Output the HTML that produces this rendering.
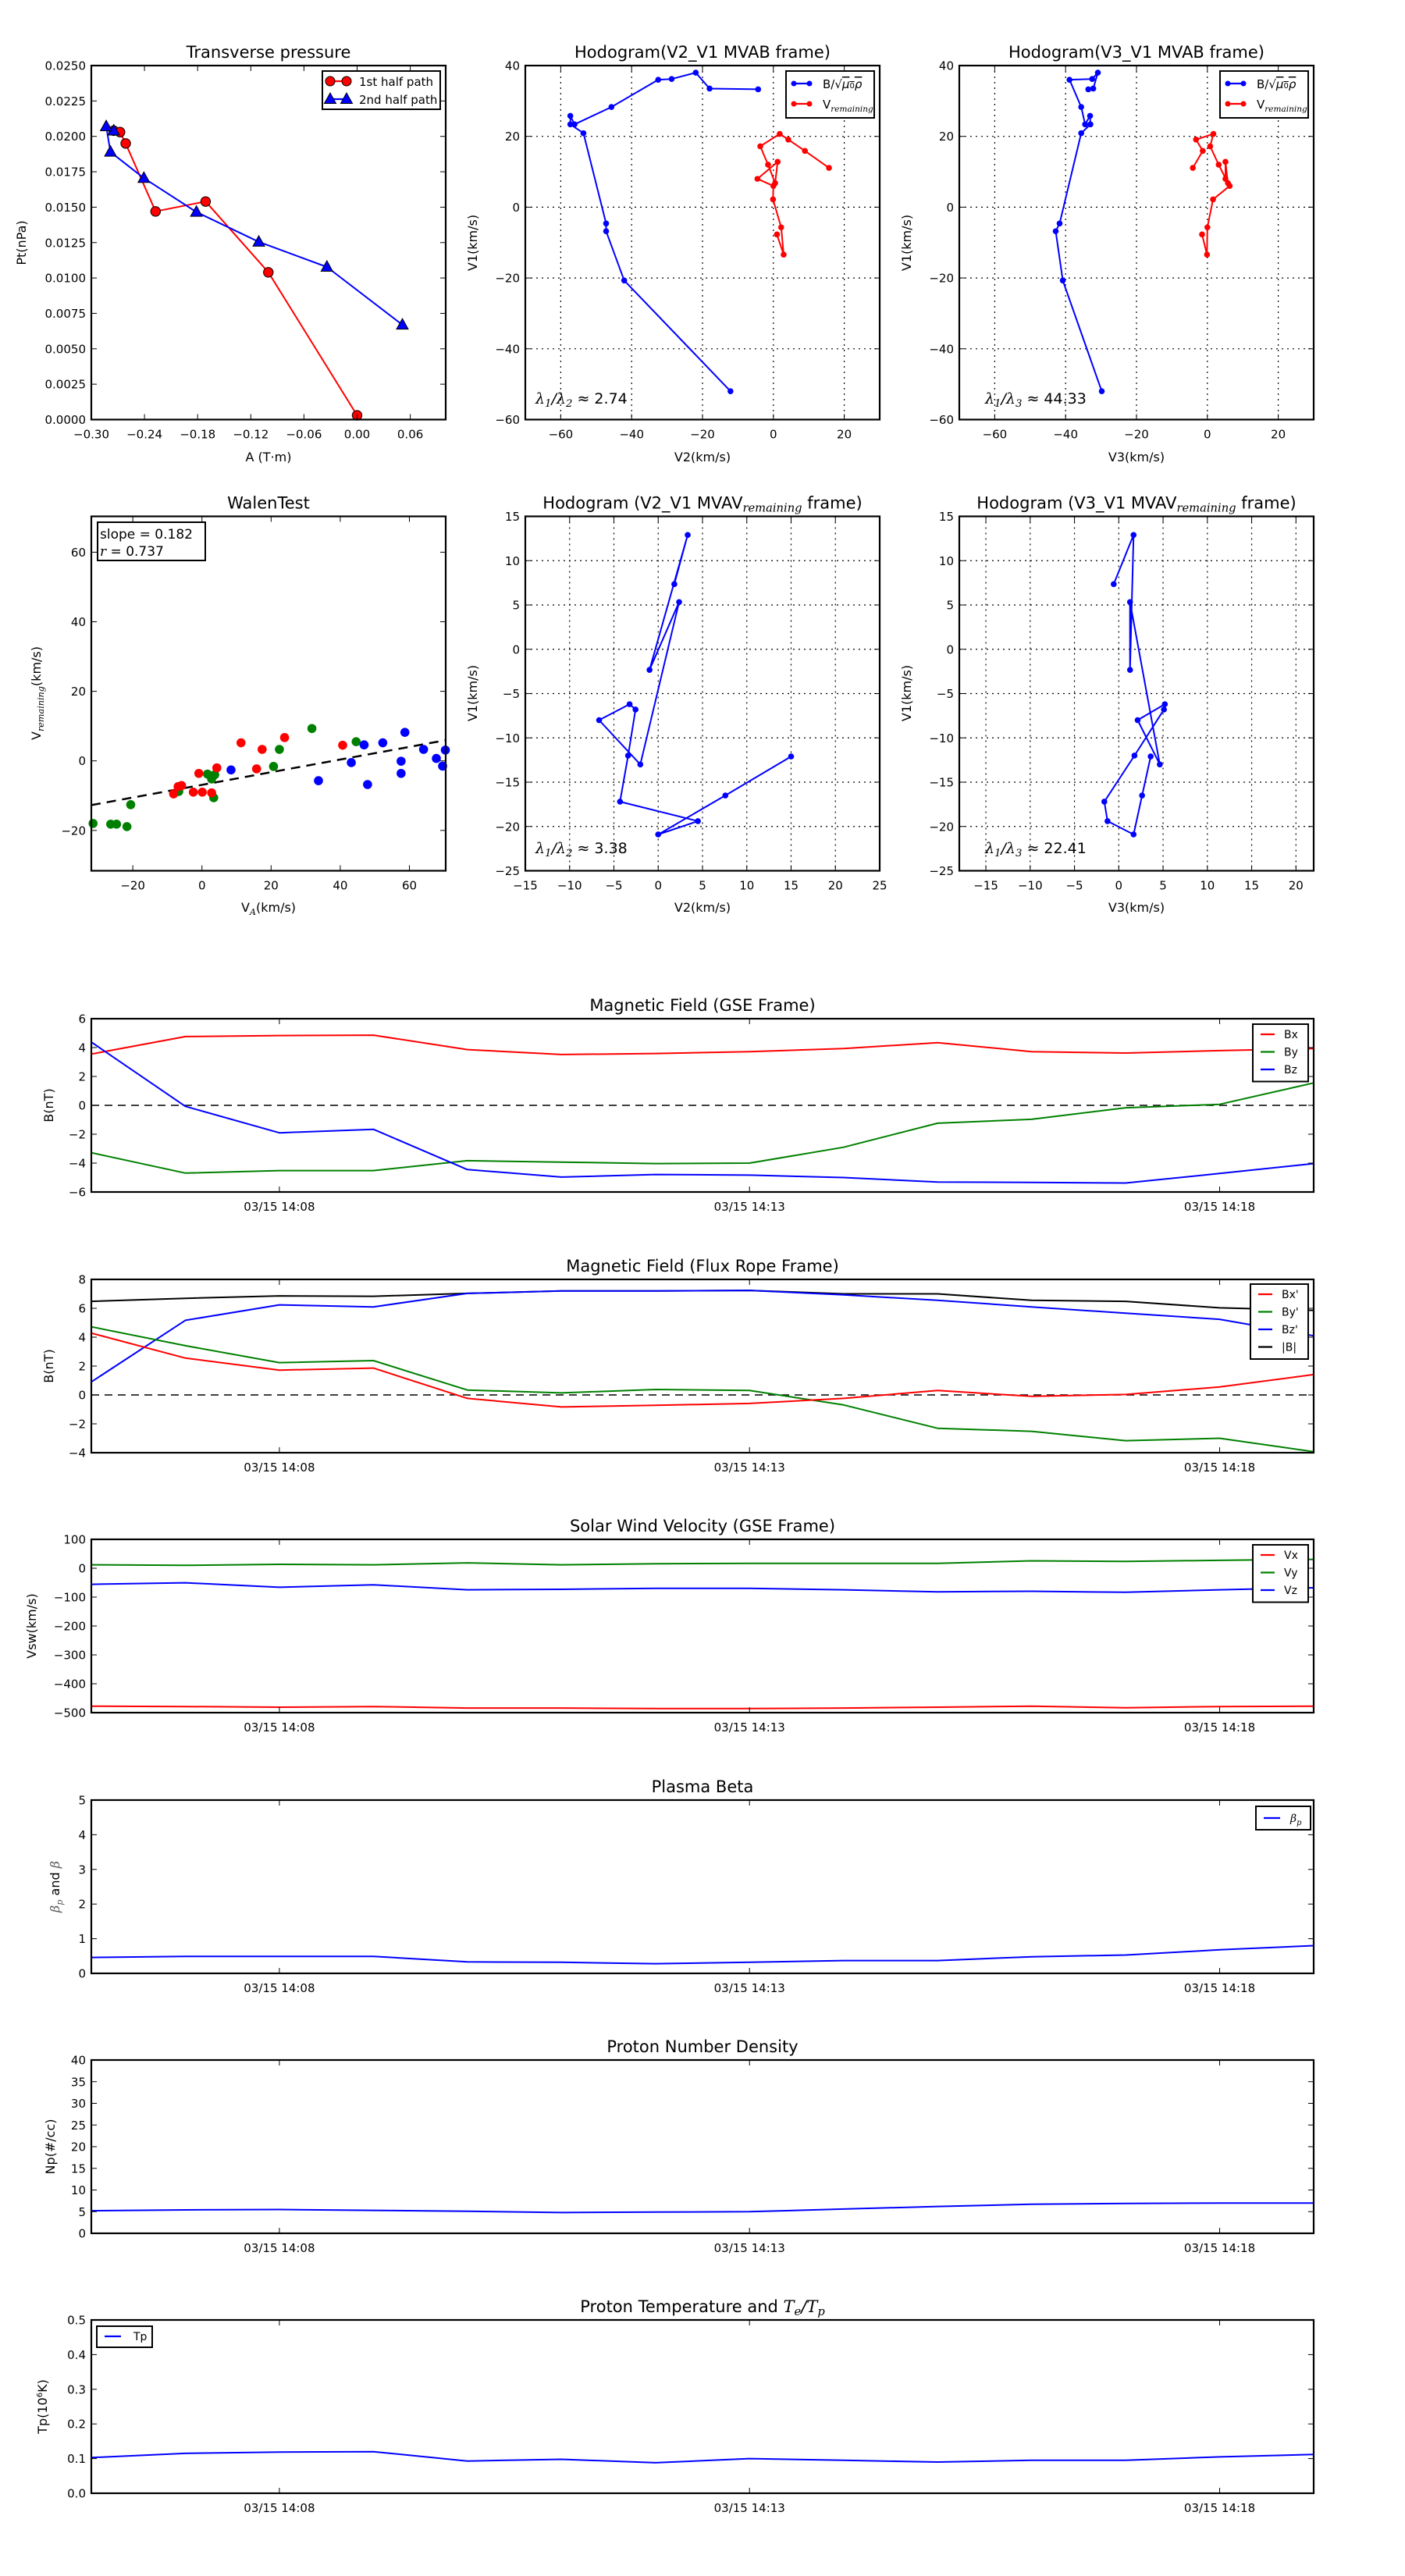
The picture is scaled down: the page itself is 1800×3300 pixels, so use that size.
<!DOCTYPE html>
<html><head><meta charset="utf-8"><title>Flux rope analysis</title>
<style>
html,body{margin:0;padding:0;background:#fff;}
svg{display:block;font-family:"DejaVu Sans","Liberation Sans",sans-serif;}
</style></head>
<body>
<svg id="fig" width="1800" height="3300" viewBox="0 0 1800 3300" xmlns="http://www.w3.org/2000/svg">
<rect x="0" y="0" width="1800" height="3300" fill="#fff"/>
</svg>
<script>
// ---------- data: transverse pressure ----------
const ptRedA = [-0.2747,-0.2676,-0.2612,-0.2275,-0.171,-0.1002,0.0];
const ptRedP = [0.0204,0.0203,0.0195,0.0147,0.0154,0.0104,0.0003];
const ptBlueA = [-0.2747,-0.2832,-0.2784,-0.2407,-0.1814,-0.111,-0.0341,0.0511];
const ptBlueP = [0.0204,0.0207,0.0189,0.01705,0.01466,0.01255,0.01078,0.00669];
// ---------- data: MVAB hodograms ----------
const hbV1 = [33.3,33.5,38.0,36.2,36.0,28.3,23.4,25.8,23.4,20.9,-4.6,-6.8,-20.7,-52.0];
const hbV2 = [-4.3,-18.0,-21.9,-28.7,-32.5,-45.7,-56.1,-57.3,-57.3,-53.6,-47.2,-47.2,-42.1,-12.1];
const hbV3 = [-33.6,-32.2,-30.9,-32.5,-38.9,-35.6,-34.5,-33.1,-33.0,-35.6,-41.7,-42.8,-40.8,-29.8];
const hvV1 = [11.1,15.9,19.1,20.7,17.2,12.0,6.8,12.8,8.0,6.0,2.2,-5.7,-13.4,-7.7];
const hvV2 = [15.7,8.9,4.2,1.8,-3.7,-1.5,0.5,1.2,-4.5,0.0,-0.1,2.2,2.9,1.0];
const hvV3 = [-4.1,-1.3,-3.2,1.7,0.8,3.2,5.8,5.1,5.1,6.3,1.6,0.0,-0.1,-1.5];
// ---------- data: Walen test ----------
const walGreenX = [-31.5,-26.4,-24.7,-21.7,-20.6,-6.7,1.6,2.8,3.7,3.4,20.7,22.4,31.8,44.6];
const walGreenY = [-18.0,-18.2,-18.2,-18.9,-12.6,-8.8,-3.8,-5.2,-4.0,-10.6,-1.6,3.3,9.3,5.5];
const walRedX = [-8.2,-6.9,-5.9,-2.5,0.1,2.8,-0.9,4.3,11.3,15.8,17.4,23.9,40.7];
const walRedY = [-9.5,-7.4,-7.1,-9.0,-9.0,-9.2,-3.6,-2.0,5.2,-2.3,3.3,6.7,4.5];
const walBlueX = [8.4,33.7,43.2,46.9,47.9,52.3,57.6,57.6,58.7,64.1,67.8,69.6,70.4];
const walBlueY = [-2.6,-5.7,-0.5,4.6,-6.8,5.2,-0.1,-3.6,8.2,3.3,0.7,-1.5,3.1];
const walSlope = [0.182];
const walIntercept = [-6.9];
// ---------- data: MVAV hodograms ----------
const hmV1 = [7.35,12.9,-2.33,5.33,-13.0,-8.0,-6.2,-6.8,-12.0,-17.2,-19.4,-20.9,-16.5,-12.1];
const hmV2 = [1.82,3.33,-0.98,2.36,-2.02,-6.67,-3.23,-2.56,-3.4,-4.31,4.48,0.0,7.58,15.0];
const hmV3 = [-0.57,1.67,1.27,1.27,4.63,2.13,5.2,5.1,1.77,-1.63,-1.27,1.67,2.63,3.6];
// ---------- data: time series (one sample per minute, 14:06 .. 14:19) ----------
const timeTickIdx = [2,7,12];
const timeTickLabels = ["03/15 14:08","03/15 14:13","03/15 14:18"];
const gseBx = [3.55,4.76,4.83,4.86,3.86,3.52,3.59,3.72,3.93,4.34,3.72,3.62,3.79,3.93];
const gseBy = [-3.28,-4.69,-4.52,-4.52,-3.83,-3.93,-4.03,-4.0,-2.9,-1.24,-0.97,-0.17,0.07,1.55];
const gseBz = [4.38,-0.07,-1.9,-1.66,-4.45,-4.97,-4.79,-4.83,-5.0,-5.31,-5.34,-5.38,-4.72,-4.03];
const frBx = [4.28,2.55,1.72,1.86,-0.24,-0.83,-0.72,-0.59,-0.24,0.31,-0.1,0.03,0.55,1.41];
const frBy = [4.72,3.41,2.24,2.38,0.34,0.14,0.38,0.31,-0.69,-2.31,-2.52,-3.17,-3.0,-3.93];
const frBz = [0.9,5.17,6.24,6.1,7.03,7.2,7.2,7.24,6.93,6.55,6.1,5.66,5.24,4.1];
const frBt = [6.48,6.69,6.86,6.83,7.03,7.2,7.2,7.24,7.0,7.0,6.55,6.48,6.03,5.86];
const swVx = [-477.6,-479,-481,-479,-484,-484,-486,-486,-484,-481,-477.6,-483,-479,-477.6];
const swVy = [11.8,10,13.5,11.8,18.7,11.8,15.3,17,17,17,25.6,23.9,27.4,30.8];
const swVz = [-55.6,-50.4,-66,-57.4,-74.6,-73,-69.5,-69.5,-74.6,-81.6,-79.8,-83.3,-74.6,-67.7];
const betaP = [0.46,0.49,0.49,0.49,0.33,0.32,0.28,0.32,0.37,0.37,0.48,0.53,0.68,0.8];
const densNp = [5.2,5.4,5.5,5.3,5.1,4.8,4.9,5.0,5.6,6.2,6.7,6.9,7.0,7.0];
const tempTp = [0.103,0.115,0.119,0.12,0.093,0.098,0.088,0.1,0.095,0.09,0.095,0.095,0.105,0.112];

// ---------- helpers ----------
const NS = 'http://www.w3.org/2000/svg';
const svg = document.getElementById('fig');
function mk(tag, attrs, parent, name, inter) {
  const el = document.createElementNS(NS, tag);
  for (const k in attrs) el.setAttribute(k, attrs[k]);
  
  
  (parent || svg).appendChild(el);
  return el;
}
function txt(parent, x, y, s, size, anchor, name, extra) {
  const a = {x: x, y: y, 'font-size': size, 'text-anchor': anchor || 'middle', fill: '#000'};
  if (extra) for (const k in extra) a[k] = extra[k];
  const t = mk('text', a, parent, name);
  t.textContent = s;
  return t;
}
function fmtMinus(v, d) { const s = v.toFixed(d); return s.replace('-', '\u2212'); }
function range(a, b, st) { const r = []; for (let v = a; v <= b + st * 1e-6; v += st) r.push(+v.toFixed(6)); return r; }

function axes(c) {
  const g = mk('g', {}, svg, c.name);
  const sx = v => c.x0 + (v - c.xd[0]) / (c.xd[1] - c.xd[0]) * (c.x1 - c.x0);
  const sy = v => c.y1 - (v - c.yd[0]) / (c.yd[1] - c.yd[0]) * (c.y1 - c.y0);
  if (c.grid) {
    c.xt.forEach(v => { mk('line', {x1: sx(v), x2: sx(v), y1: c.y0, y2: c.y1, stroke: '#000', 'stroke-width': 1.2, 'stroke-dasharray': '2,5'}, g, 'x-grid-line'); });
    c.yt.forEach(v => { mk('line', {x1: c.x0, x2: c.x1, y1: sy(v), y2: sy(v), stroke: '#000', 'stroke-width': 1.2, 'stroke-dasharray': '2,5'}, g, 'y-grid-line'); });
  }
  const plot = mk('g', {}, g, 'plot-area');
  c.xt.forEach((v, i) => {
    const x = sx(v);
    mk('line', {x1: x, x2: x, y1: c.y1, y2: c.y1 - 7, stroke: '#000', 'stroke-width': 1}, g, 'x-tick');
    mk('line', {x1: x, x2: x, y1: c.y0, y2: c.y0 + 7, stroke: '#000', 'stroke-width': 1}, g, 'x-tick');
    txt(g, x, c.y1 + 24, c.xl[i], 15, 'middle', 'x-tick-label');
  });
  c.yt.forEach((v, i) => {
    const y = sy(v);
    mk('line', {x1: c.x0, x2: c.x0 + 7, y1: y, y2: y, stroke: '#000', 'stroke-width': 1}, g, 'y-tick');
    mk('line', {x1: c.x1, x2: c.x1 - 7, y1: y, y2: y, stroke: '#000', 'stroke-width': 1}, g, 'y-tick');
    txt(g, c.x0 - 7, y + 5.5, c.yl[i], 15, 'end', 'y-tick-label');
  });
  mk('rect', {x: c.x0, y: c.y0, width: c.x1 - c.x0, height: c.y1 - c.y0, fill: 'none', stroke: '#000', 'stroke-width': 2.2}, g, 'axes-frame');
  if (c.title) txt(g, (c.x0 + c.x1) / 2, c.y0 - 10, c.title, 21, 'middle', 'chart-title');
  return {sx: sx, sy: sy, g: g, plot: plot, c: c};
}
function line(ax, xs, ys, color, name, w) {
  const pts = xs.map((x, i) => ax.sx(x).toFixed(1) + ',' + ax.sy(ys[i]).toFixed(1)).join(' ');
  return mk('polyline', {points: pts, fill: 'none', stroke: color, 'stroke-width': w || 2, 'stroke-linejoin': 'round'}, ax.plot, name);
}
function dots(ax, xs, ys, color, r, name, stroke) {
  xs.forEach((x, i) => {
    mk('circle', {cx: ax.sx(x), cy: ax.sy(ys[i]), r: r, fill: color, stroke: stroke || color, 'stroke-width': stroke ? 1 : 0}, ax.plot, name);
  });
}
function tris(ax, xs, ys, color, name) {
  xs.forEach((x, i) => {
    const cx = ax.sx(x), cy = ax.sy(ys[i]);
    mk('polygon', {points: `${cx},${cy - 8} ${cx - 7.5},${cy + 5.5} ${cx + 7.5},${cy + 5.5}`, fill: color, stroke: '#000', 'stroke-width': 1}, ax.plot, name);
  });
}
function legendBox(x, y, w, h, name) {
  const g = mk('g', {}, svg, name);
  mk('rect', {x: x, y: y, width: w, height: h, fill: '#fff', stroke: '#000', 'stroke-width': 2}, g, 'legend-frame');
  return g;
}
function legLine(g, x1, x2, y, color, name, marker) {
  mk('line', {x1: x1, x2: x2, y1: y, y2: y, stroke: color, 'stroke-width': 2.2}, g, name);
  if (marker === 'dot') { [x1, x2].forEach(x => { mk('circle', {cx: x, cy: y, r: 3.5, fill: color}, g, name + '-marker'); }); }
  if (marker === 'bigdot') { [x1, x2].forEach(x => { mk('circle', {cx: x, cy: y, r: 6, fill: color, stroke: '#000', 'stroke-width': 1}, g, name + '-marker'); }); }
  if (marker === 'tri') { [x1, x2].forEach(x => { mk('polygon', {points: `${x},${y - 8} ${x - 7.5},${y + 5.5} ${x + 7.5},${y + 5.5}`, fill: color, stroke: '#000', 'stroke-width': 1}, g, name + '-marker'); }); }
}
function ylabel(x, y, s, size, name) {
  const t = txt(svg, x, y, s, size || 16, 'middle', name, {transform: `rotate(-90 ${x} ${y})`});
  return t;
}
function addSub(t, base, sub, italicBase) {
  const a = document.createElementNS(NS, 'tspan'); a.textContent = base;
  if (italicBase) { a.setAttribute('font-style', 'italic'); a.setAttribute('font-family', 'DejaVu Serif, serif'); }
  t.appendChild(a);
  const b = document.createElementNS(NS, 'tspan'); b.textContent = sub;
  b.setAttribute('font-size', '0.7em'); b.setAttribute('dy', '4'); b.setAttribute('font-style', 'italic'); b.setAttribute('font-family', 'DejaVu Serif, serif');
  t.appendChild(b);
  const c = document.createElementNS(NS, 'tspan'); c.textContent = '\u200b'; c.setAttribute('dy', '-4');
  t.appendChild(c);
}
function lambdaText(x, y, a, b, val, name) {
  const t = txt(svg, x, y, '', 19, 'start', name);
  addSub(t, '\u03bb', a, true);
  const s = document.createElementNS(NS, 'tspan'); s.textContent = '/'; s.setAttribute('font-style', 'italic'); t.appendChild(s);
  addSub(t, '\u03bb', b, true);
  const r = document.createElementNS(NS, 'tspan'); r.textContent = ' \u2248 ' + val; t.appendChild(r);
}

// ---------- Transverse pressure ----------
const p1 = axes({name: 'transverse-pressure-chart', x0: 117, x1: 571, y0: 84, y1: 537.5, xd: [-0.3, 0.1], yd: [0, 0.025],
  xt: range(-0.30, 0.06, 0.06), xl: range(-0.30, 0.06, 0.06).map(v => fmtMinus(v, 2)),
  yt: range(0, 0.025, 0.0025), yl: range(0, 0.025, 0.0025).map(v => v.toFixed(4)), title: 'Transverse pressure'});
line(p1, ptRedA, ptRedP, '#f00', 'first-half-path-line');
line(p1, ptBlueA, ptBlueP, '#00f', 'second-half-path-line');
dots(p1, ptRedA, ptRedP, '#f00', 6.2, 'first-half-point', '#000');
tris(p1, ptBlueA, ptBlueP, '#00f', 'second-half-point');
ylabel(33, 311, 'Pt(nPa)', 16, 'y-axis-title');
txt(svg, 344, 591, 'A (T\u00b7m)', 16, 'middle', 'x-axis-title');
{ const g = legendBox(413, 91, 151, 49, 'legend');
  legLine(g, 423, 444, 104, '#f00', 'legend-entry-first-half', 'bigdot');
  txt(g, 460, 110, '1st half path', 15, 'start', 'legend-label');
  legLine(g, 423, 444, 127, '#00f', 'legend-entry-second-half', 'tri');
  txt(g, 460, 133, '2nd half path', 15, 'start', 'legend-label'); }

// ---------- MVAB hodograms ----------
function mvabLegend(x0, nm) {
  const g = legendBox(x0, 91, 113, 60, nm);
  legLine(g, x0 + 10, x0 + 30, 107, '#00f', 'legend-entry-b', 'dot');
  const t1 = txt(g, x0 + 47, 113, 'B/\u221a', 15, 'start', 'legend-label');
  const m = document.createElementNS(NS, 'tspan'); m.textContent = '\u03bc'; m.setAttribute('font-style', 'italic'); m.setAttribute('text-decoration', 'overline'); t1.appendChild(m);
  const m2 = document.createElementNS(NS, 'tspan'); m2.textContent = '0'; m2.setAttribute('font-size', '10'); m2.setAttribute('text-decoration', 'overline'); t1.appendChild(m2);
  const m3 = document.createElementNS(NS, 'tspan'); m3.textContent = '\u03c1'; m3.setAttribute('font-style', 'italic'); m3.setAttribute('text-decoration', 'overline'); t1.appendChild(m3);
  legLine(g, x0 + 10, x0 + 30, 133, '#f00', 'legend-entry-v', 'dot');
  const t2 = txt(g, x0 + 47, 139, '', 15, 'start', 'legend-label');
  addSub(t2, 'V', 'remaining', false);
}
const p2 = axes({name: 'hodogram-v2-v1-mvab', x0: 673, x1: 1127, y0: 84, y1: 537.5, xd: [-70, 30], yd: [-60, 40],
  xt: [-60, -40, -20, 0, 20], xl: [-60, -40, -20, 0, 20].map(v => fmtMinus(v, 0)),
  yt: [-60, -40, -20, 0, 20, 40], yl: [-60, -40, -20, 0, 20, 40].map(v => fmtMinus(v, 0)), grid: true, title: 'Hodogram(V2_V1 MVAB frame)'});
line(p2, hbV2, hbV1, '#00f', 'b-hodogram-line'); dots(p2, hbV2, hbV1, '#00f', 3.8, 'b-hodogram-point');
line(p2, hvV2, hvV1, '#f00', 'v-hodogram-line'); dots(p2, hvV2, hvV1, '#f00', 3.8, 'v-hodogram-point');
mvabLegend(1007, 'legend');
lambdaText(686, 517, '1', '2', '2.74', 'eigenvalue-ratio');
ylabel(611, 311, 'V1(km/s)', 16, 'y-axis-title');
txt(svg, 900, 591, 'V2(km/s)', 16, 'middle', 'x-axis-title');

const p3 = axes({name: 'hodogram-v3-v1-mvab', x0: 1229, x1: 1683, y0: 84, y1: 537.5, xd: [-70, 30], yd: [-60, 40],
  xt: [-60, -40, -20, 0, 20], xl: [-60, -40, -20, 0, 20].map(v => fmtMinus(v, 0)),
  yt: [-60, -40, -20, 0, 20, 40], yl: [-60, -40, -20, 0, 20, 40].map(v => fmtMinus(v, 0)), grid: true, title: 'Hodogram(V3_V1 MVAB frame)'});
line(p3, hbV3, hbV1, '#00f', 'b-hodogram-line'); dots(p3, hbV3, hbV1, '#00f', 3.8, 'b-hodogram-point');
line(p3, hvV3, hvV1, '#f00', 'v-hodogram-line'); dots(p3, hvV3, hvV1, '#f00', 3.8, 'v-hodogram-point');
mvabLegend(1563, 'legend');
lambdaText(1262, 517, '1', '3', '44.33', 'eigenvalue-ratio');
ylabel(1167, 311, 'V1(km/s)', 16, 'y-axis-title');
txt(svg, 1456, 591, 'V3(km/s)', 16, 'middle', 'x-axis-title');

// ---------- Walen test ----------
const p4 = axes({name: 'walen-test-chart', x0: 117, x1: 571, y0: 661.5, y1: 1115.5, xd: [-32, 70.5], yd: [-31.6, 70.3],
  xt: [-20, 0, 20, 40, 60], xl: [-20, 0, 20, 40, 60].map(v => fmtMinus(v, 0)),
  yt: [-20, 0, 20, 40, 60], yl: [-20, 0, 20, 40, 60].map(v => fmtMinus(v, 0)), title: 'WalenTest'});
{ const xa = p4.c.xd[0], xb = p4.c.xd[1];
  mk('line', {x1: p4.sx(xa), y1: p4.sy(walSlope[0] * xa + walIntercept[0]), x2: p4.sx(xb), y2: p4.sy(walSlope[0] * xb + walIntercept[0]), stroke: '#000', 'stroke-width': 2.5, 'stroke-dasharray': '12,8'}, p4.plot, 'fit-line'); }
dots(p4, walGreenX, walGreenY, '#008000', 5.8, 'walen-point-green');
dots(p4, walRedX, walRedY, '#f00', 5.8, 'walen-point-red');
dots(p4, walBlueX, walBlueY, '#00f', 5.8, 'walen-point-blue');
{ const g = legendBox(125, 669, 138, 49, 'stats-box');
  txt(g, 128, 690, 'slope = 0.182', 17, 'start', 'slope-text');
  const t = txt(g, 128, 712, '', 17, 'start', 'r-text');
  const a = document.createElementNS(NS, 'tspan'); a.textContent = 'r'; a.setAttribute('font-style', 'italic'); a.setAttribute('font-family', 'DejaVu Serif, serif'); t.appendChild(a);
  const b = document.createElementNS(NS, 'tspan'); b.textContent = ' = 0.737'; t.appendChild(b); }
{ const t = ylabel(52, 888, '', 16, 'y-axis-title'); addSub(t, 'V', 'remaining', false); const r = document.createElementNS(NS, 'tspan'); r.textContent = '(km/s)'; t.appendChild(r); }
{ const t = txt(svg, 344, 1168, '', 16, 'middle', 'x-axis-title'); addSub(t, 'V', 'A', false); const r = document.createElementNS(NS, 'tspan'); r.textContent = '(km/s)'; t.appendChild(r); }

// ---------- MVAV hodograms ----------
function mvavTitle(ax, frame) {
  const t = txt(svg, (ax.c.x0 + ax.c.x1) / 2, ax.c.y0 - 10, '', 21, 'middle', 'chart-title');
  addSub(t, 'Hodogram (' + frame + ' MVAV', 'remaining', false);
  const r = document.createElementNS(NS, 'tspan'); r.textContent = ' frame)'; t.appendChild(r);
}
const p5 = axes({name: 'hodogram-v2-v1-mvav', x0: 673, x1: 1127, y0: 661.5, y1: 1115.5, xd: [-15, 25], yd: [-25, 15],
  xt: range(-15, 25, 5), xl: range(-15, 25, 5).map(v => fmtMinus(v, 0)),
  yt: range(-25, 15, 5), yl: range(-25, 15, 5).map(v => fmtMinus(v, 0)), grid: true});
mvavTitle(p5, 'V2_V1');
line(p5, hmV2, hmV1, '#00f', 'v-hodogram-line'); dots(p5, hmV2, hmV1, '#00f', 3.8, 'v-hodogram-point');
lambdaText(686, 1093, '1', '2', '3.38', 'eigenvalue-ratio');
ylabel(611, 888, 'V1(km/s)', 16, 'y-axis-title');
txt(svg, 900, 1168, 'V2(km/s)', 16, 'middle', 'x-axis-title');

const p6 = axes({name: 'hodogram-v3-v1-mvav', x0: 1229, x1: 1683, y0: 661.5, y1: 1115.5, xd: [-18, 22], yd: [-25, 15],
  xt: range(-15, 20, 5), xl: range(-15, 20, 5).map(v => fmtMinus(v, 0)),
  yt: range(-25, 15, 5), yl: range(-25, 15, 5).map(v => fmtMinus(v, 0)), grid: true});
mvavTitle(p6, 'V3_V1');
line(p6, hmV3, hmV1, '#00f', 'v-hodogram-line'); dots(p6, hmV3, hmV1, '#00f', 3.8, 'v-hodogram-point');
lambdaText(1262, 1093, '1', '3', '22.41', 'eigenvalue-ratio');
ylabel(1167, 888, 'V1(km/s)', 16, 'y-axis-title');
txt(svg, 1456, 1168, 'V3(km/s)', 16, 'middle', 'x-axis-title');

// ---------- time series ----------
const idx = gseBx.map((v, i) => i);
function tsAxes(name, top, yd, yt, yl, title) {
  return axes({name: name, x0: 117, x1: 1683, y0: top, y1: top + 222, xd: [0, 13], yd: yd,
    xt: timeTickIdx, xl: timeTickLabels, yt: yt, yl: yl, title: title});
}
function zeroLine(ax) { mk('line', {x1: ax.c.x0, x2: ax.c.x1, y1: ax.sy(0), y2: ax.sy(0), stroke: '#000', 'stroke-width': 1.5, 'stroke-dasharray': '10,7'}, ax.plot, 'zero-line'); }
function tsLegend(x, y, w, entries, name) {
  const g = legendBox(x, y, w, entries.length * 22.5 + 6, name);
  entries.forEach((e, i) => {
    const yy = y + 13 + i * 22.5;
    legLine(g, x + 10, x + 28, yy, e[1], 'legend-entry-' + i);
    txt(g, x + 40, yy + 5, e[0], 14, 'start', 'legend-label');
  });
  return g;
}
const t1 = tsAxes('magnetic-field-gse-chart', 1305, [-6, 6], range(-6, 6, 2), range(-6, 6, 2).map(v => fmtMinus(v, 0)), 'Magnetic Field (GSE Frame)');
zeroLine(t1);
line(t1, idx, gseBx, '#f00', 'bx-line'); line(t1, idx, gseBy, '#008000', 'by-line'); line(t1, idx, gseBz, '#00f', 'bz-line');
tsLegend(1605, 1312, 71, [['Bx', '#f00'], ['By', '#008000'], ['Bz', '#00f']], 'legend');
ylabel(68, 1416, 'B(nT)', 16, 'y-axis-title');

const t2 = tsAxes('magnetic-field-flux-rope-chart', 1639, [-4, 8], range(-4, 8, 2), range(-4, 8, 2).map(v => fmtMinus(v, 0)), 'Magnetic Field (Flux Rope Frame)');
zeroLine(t2);
line(t2, idx, frBt, '#000', 'b-total-line'); line(t2, idx, frBz, '#00f', 'bz-prime-line');
line(t2, idx, frBy, '#008000', 'by-prime-line'); line(t2, idx, frBx, '#f00', 'bx-prime-line');
tsLegend(1602, 1645, 74, [["Bx'", '#f00'], ["By'", '#008000'], ["Bz'", '#00f'], ['|B|', '#000']], 'legend');
ylabel(68, 1750, 'B(nT)', 16, 'y-axis-title');

const t3 = tsAxes('solar-wind-velocity-chart', 1972, [-500, 100], range(-500, 100, 100), range(-500, 100, 100).map(v => fmtMinus(v, 0)), 'Solar Wind Velocity (GSE Frame)');
line(t3, idx, swVx, '#f00', 'vx-line'); line(t3, idx, swVy, '#008000', 'vy-line'); line(t3, idx, swVz, '#00f', 'vz-line');
tsLegend(1605, 1979, 71, [['Vx', '#f00'], ['Vy', '#008000'], ['Vz', '#00f']], 'legend');
ylabel(46, 2083, 'Vsw(km/s)', 16, 'y-axis-title');

const t4 = tsAxes('plasma-beta-chart', 2306, [0, 5], range(0, 5, 1), range(0, 5, 1).map(v => v.toFixed(0)), 'Plasma Beta');
line(t4, idx, betaP, '#00f', 'beta-p-line');
{ const g = legendBox(1609, 2314, 70, 30, 'legend'); legLine(g, 1619, 1640, 2329, '#00f', 'legend-entry-0');
  const t = txt(g, 1653, 2334, '', 14, 'start', 'legend-label'); addSub(t, '\u03b2', 'p', true); }
{ const t = ylabel(76, 2417, '', 16, 'y-axis-title'); t.setAttribute('fill', '#555'); addSub(t, '\u03b2', 'p', true);
  const a = document.createElementNS(NS, 'tspan'); a.textContent = ' and '; a.setAttribute('fill', '#000'); t.appendChild(a);
  const b = document.createElementNS(NS, 'tspan'); b.textContent = '\u03b2'; b.setAttribute('font-style', 'italic'); b.setAttribute('font-family', 'DejaVu Serif, serif'); t.appendChild(b); }

const t5 = tsAxes('proton-density-chart', 2639, [0, 40], range(0, 40, 5), range(0, 40, 5).map(v => v.toFixed(0)), 'Proton Number Density');
line(t5, idx, densNp, '#00f', 'np-line');
ylabel(70, 2750, 'Np(#/cc)', 16, 'y-axis-title');

const t6 = tsAxes('proton-temperature-chart', 2972, [0, 0.5], range(0, 0.5, 0.1), range(0, 0.5, 0.1).map(v => v.toFixed(1)), null);
line(t6, idx, tempTp, '#00f', 'tp-line');
{ const t = txt(svg, 900, 2962, 'Proton Temperature and ', 21, 'middle', 'chart-title');
  addSub(t, 'T', 'e', true);
  const s = document.createElementNS(NS, 'tspan'); s.textContent = '/'; s.setAttribute('font-style', 'italic'); t.appendChild(s);
  addSub(t, 'T', 'p', true); }
{ const g = legendBox(124, 2980, 71, 27, 'legend'); legLine(g, 134, 155, 2993, '#00f', 'legend-entry-0');
  txt(g, 171, 2998, 'Tp', 14, 'start', 'legend-label'); }
{ const t = ylabel(60, 3083, 'Tp(10', 16, 'y-axis-title');
  const a = document.createElementNS(NS, 'tspan'); a.textContent = '6'; a.setAttribute('font-size', '10'); a.setAttribute('dy', '-6'); t.appendChild(a);
  const b = document.createElementNS(NS, 'tspan'); b.textContent = 'K)'; b.setAttribute('dy', '6'); t.appendChild(b); }
</script>
</body></html>
